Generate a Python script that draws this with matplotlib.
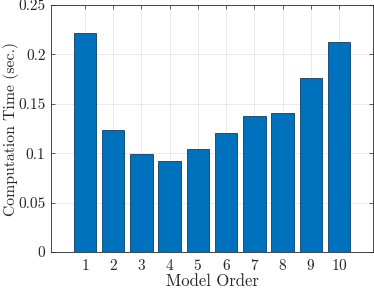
import numpy as np
import matplotlib
matplotlib.use("Agg")
import matplotlib.pyplot as plt

# model order vs computation time
orders = [1, 2, 3, 4, 5, 6, 7, 8, 9, 10]
comp_time = [0.2217, 0.1235, 0.0995, 0.0924, 0.1040, 0.1200, 0.1380, 0.1407, 0.1764, 0.2129]

plt.rcParams['font.family'] = ['cmr10', 'DejaVu Serif']
plt.rcParams['axes.formatter.use_mathtext'] = True

fig = plt.figure(figsize=(3.74, 2.89), dpi=100)
ax = fig.add_axes([51 / 374, 1 - 252 / 289, (373 - 51) / 374, (252 - 5) / 289])

ax.bar(orders, comp_time, width=0.8, color='#0072BD', edgecolor='#0B3F66', linewidth=0.6, zorder=3)

ax.set_xlim(-0.2, 11.2)
ax.set_ylim(0, 0.25)
ax.set_xticks(orders)
ax.set_yticks([0, 0.05, 0.1, 0.15, 0.2, 0.25])
ax.set_yticklabels(['0', '0.05', '0.1', '0.15', '0.2', '0.25'])

ax.grid(True, color='#E6E6E6', linewidth=0.6, zorder=0)
ax.tick_params(direction='in', top=True, right=True, length=3, width=0.5,
               colors='#262626', labelsize=11, pad=4)
for s in ax.spines.values():
    s.set_color('#262626')
    s.set_linewidth(0.6)

ax.set_xlabel('Model Order', fontsize=12, labelpad=1, color='#262626')
ax.set_ylabel('Computation Time (sec.)', fontsize=11.3, color='#262626')
ax.yaxis.set_label_coords(-0.098, 0.5)

fig.savefig('out.png', dpi=100)
